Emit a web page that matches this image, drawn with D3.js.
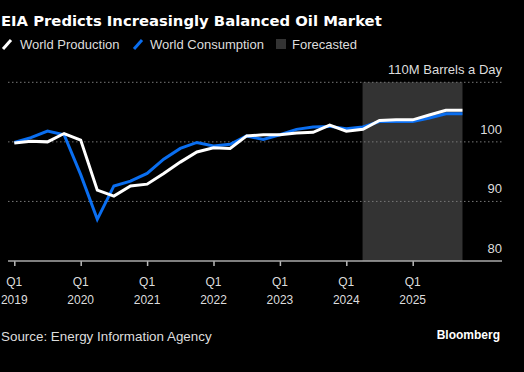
<!DOCTYPE html>
<html>
<head>
<meta charset="utf-8">
<script src="https://cdn.jsdelivr.net/npm/d3@7"></script>
<style>
  body { margin: 0; background: #000; }
  svg { display: block; font-family: "Liberation Sans", Arial, sans-serif; }
</style>
</head>
<body>
<div id="chart"></div>
<script>
// quarterly, Q1 2019 .. Q4 2025
var quarters = d3.range(28);
var production = [99.8, 100.1, 100.0, 101.4, 100.3, 91.9, 90.9, 92.6, 92.9, 94.7,
    96.6, 98.3, 99.0, 98.9, 101.0, 101.2, 101.2, 101.5, 101.6, 102.8,
    101.8, 102.1, 103.6, 103.7, 103.7, 104.5, 105.3, 105.3];
var consumption = [99.9, 100.7, 101.8, 101.2, 94.5, 87.0, 92.6, 93.4, 94.7, 97.1,
    98.9, 99.9, 99.3, 99.6, 101.0, 100.4, 101.2, 102.1, 102.5, 102.6,
    102.2, 102.5, 103.4, 103.4, 103.4, 104.0, 104.7, 104.7];
var forecastStart = 21, forecastEnd = 27;
var yTicks = [80, 90, 100, 110];
var xTicks = [0, 4, 8, 12, 16, 20, 24];
var xTickLabels = ["2019", "2020", "2021", "2022", "2023", "2024", "2025"];

var width = 524, height = 372;

var svg = d3.select("#chart")
    .append("svg")
    .attr("width", width)
    .attr("height", height);

var x = d3.scaleLinear()
    .domain([0, 27])
    .range([14.3, 462.5]);

var y = d3.scaleLinear()
    .domain([80, 110])
    .range([261, 82.3]);

// title + legend
svg.append("text")
    .attr("x", 1).attr("y", 26)
    .attr("fill", "#fff")
    .style("font-family", "'DejaVu Sans', Verdana, sans-serif")
    .style("font-weight", "bold")
    .style("font-size", "14.8px")
    .text("EIA Predicts Increasingly Balanced Oil Market");

var legend = svg.append("g").style("font-size", "13px").attr("fill", "#ddd");
legend.append("line").attr("x1", 3).attr("y1", 49).attr("x2", 11).attr("y2", 40)
    .attr("stroke", "#fff").attr("stroke-width", 3);
legend.append("text").attr("x", 20).attr("y", 49).text("World Production");
legend.append("line").attr("x1", 134).attr("y1", 49).attr("x2", 142).attr("y2", 40)
    .attr("stroke", "#0a6ef0").attr("stroke-width", 3);
legend.append("text").attr("x", 150).attr("y", 49).text("World Consumption");
legend.append("rect").attr("x", 276).attr("y", 39).attr("width", 10).attr("height", 10)
    .attr("fill", "#333");
legend.append("text").attr("x", 292).attr("y", 49).text("Forecasted");

// forecast shading
svg.append("rect")
    .attr("x", x(forecastStart - 0.02))
    .attr("y", y(110))
    .attr("width", x(forecastEnd) - x(forecastStart - 0.02))
    .attr("height", y(80) - y(110))
    .attr("fill", "#333");

// gridlines
svg.append("g")
    .selectAll("line")
    .data(yTicks.slice(1))
    .join("line")
    .attr("x1", 8).attr("x2", 502)
    .attr("y1", d => y(d)).attr("y2", d => y(d))
    .attr("stroke", "#777")
    .attr("stroke-dasharray", "1.5,2.5");

// y labels
svg.append("g")
    .selectAll("text")
    .data(yTicks)
    .join("text")
    .attr("x", 502)
    .attr("y", d => y(d) - 8)
    .attr("text-anchor", "end")
    .attr("fill", "#ddd")
    .style("font-size", "13px")
    .text(d => d == 110 ? "110M Barrels a Day" : d);

// x axis
var xAxis = svg.append("g")
    .attr("transform", "translate(0," + y(80) + ")")
    .call(d3.axisBottom(x).tickValues(xTicks).tickSize(5).tickFormat(""));
xAxis.select(".domain").remove();
xAxis.selectAll(".tick line").attr("stroke", "#bbb").attr("stroke-width", 1.5);
xAxis.append("line").attr("x1", 8).attr("x2", 502)
    .attr("stroke", "#aaa").attr("stroke-width", 1.5);

var xl = svg.append("g").style("font-size", "12px").attr("fill", "#ddd")
    .attr("text-anchor", "middle");
xl.selectAll(".q").data(xTicks).join("text")
    .attr("class", "q")
    .attr("x", d => x(d)).attr("y", 286).text("Q1");
xl.selectAll(".yr").data(xTicks).join("text")
    .attr("class", "yr")
    .attr("x", d => x(d)).attr("y", 304).text((d, i) => xTickLabels[i]);

// lines
var line = (vals) => d3.line().x(d => x(d)).y(d => y(vals[d]))(quarters);

svg.append("path")
    .attr("d", line(consumption))
    .attr("fill", "none")
    .attr("stroke", "#0a6ef0")
    .attr("stroke-width", 3);

svg.append("path")
    .attr("d", line(production))
    .attr("fill", "none")
    .attr("stroke", "#fff")
    .attr("stroke-width", 3);

// footer
svg.append("text")
    .attr("x", 1).attr("y", 341)
    .attr("fill", "#ddd")
    .style("font-size", "13.4px")
    .text("Source: Energy Information Agency");

svg.append("text")
    .attr("x", 500).attr("y", 339)
    .attr("text-anchor", "end")
    .attr("fill", "#fff")
    .style("font-size", "12px")
    .style("font-weight", "bold")
    .text("Bloomberg");
</script>
</body>
</html>
